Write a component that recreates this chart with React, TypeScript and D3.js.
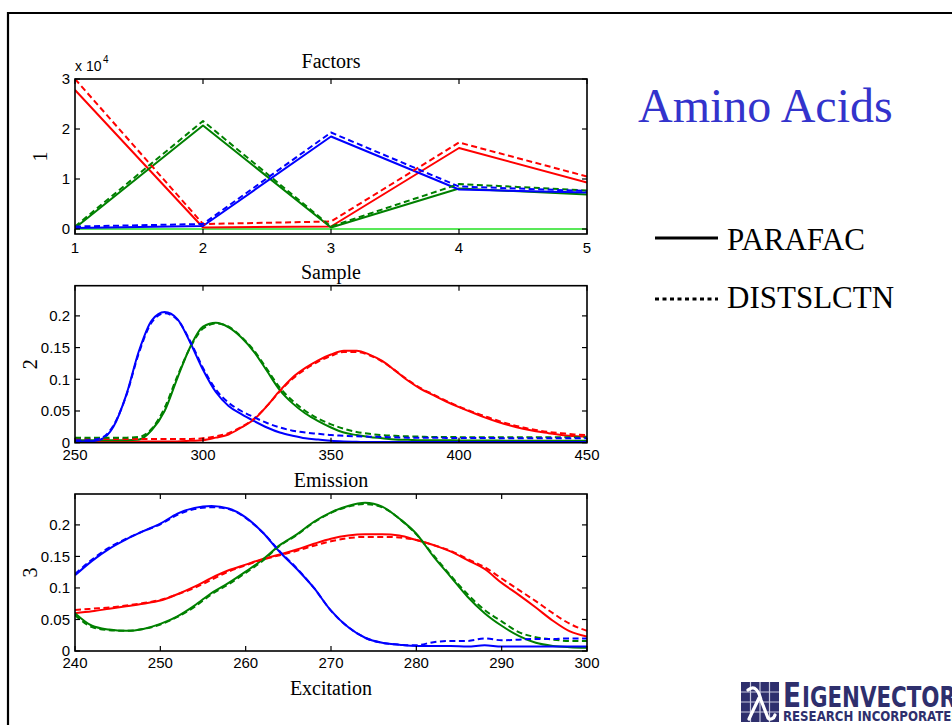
import React from 'react';
import * as d3 from 'd3';

// ---- Mode 1: sample loadings (x 10^4) ----
const sampleIdx = [1, 2, 3, 4, 5];
const sampleRedPar = [2.78, 0.03, 0.05, 1.62, 0.93];
const sampleRedDist = [3.0, 0.1, 0.15, 1.73, 1.05];
const sampleGreenPar = [0.02, 2.07, 0.03, 0.81, 0.69];
const sampleGreenDist = [0.05, 2.16, 0.05, 0.9, 0.77];
const sampleBluePar = [0.02, 0.06, 1.85, 0.79, 0.73];
const sampleBlueDist = [0.05, 0.1, 1.93, 0.85, 0.76];
const sampleZero = [0, 0, 0, 0, 0];

// ---- Mode 2: emission loadings ----
const emWave = [
  250, 255, 260, 265, 270, 275, 280, 285, 290, 295, 300, 305, 310, 315, 320, 325, 330, 335, 340, 345,
  350, 355, 360, 365, 370, 375, 380, 385, 390, 395, 400, 405, 410, 415, 420, 425, 430, 435, 440, 445, 450,
];
const emBluePar = [
  0.002, 0.002, 0.005, 0.025, 0.075, 0.145, 0.193, 0.206, 0.195, 0.158, 0.115, 0.08, 0.058, 0.045, 0.034, 0.024,
  0.016, 0.011, 0.007, 0.005, 0.003, 0.002, 0.0015, 0.001, 0.001, 0.001, 0.001, 0.001, 0.001, 0.001, 0.001,
  0.001, 0.001, 0.001, 0.001, 0.001, 0.001, 0.001, 0.001, 0.001, 0.001,
];
const emBlueDist = [
  0.004, 0.004, 0.007, 0.027, 0.074, 0.142, 0.19, 0.204, 0.194, 0.16, 0.118, 0.084, 0.063, 0.05, 0.04, 0.031,
  0.024, 0.019, 0.016, 0.014, 0.012, 0.011, 0.01, 0.0095, 0.009, 0.0085, 0.008, 0.008, 0.0078, 0.0076, 0.0075,
  0.0074, 0.0073, 0.0072, 0.0071, 0.007, 0.007, 0.007, 0.007, 0.007, 0.007,
];
const emGreenPar = [
  0.004, 0.004, 0.004, 0.004, 0.004, 0.005, 0.02, 0.05, 0.102, 0.151, 0.183, 0.189, 0.182, 0.166, 0.143, 0.113,
  0.083, 0.062, 0.046, 0.034, 0.024, 0.016, 0.012, 0.009, 0.007, 0.005, 0.0045, 0.004, 0.004, 0.0038, 0.0036,
  0.0035, 0.0034, 0.0033, 0.0032, 0.0031, 0.003, 0.003, 0.003, 0.003, 0.003,
];
const emGreenDist = [
  0.008, 0.008, 0.008, 0.008, 0.008, 0.009, 0.022, 0.055, 0.105, 0.15, 0.18, 0.188, 0.183, 0.167, 0.145, 0.116,
  0.087, 0.066, 0.05, 0.038, 0.029, 0.022, 0.017, 0.014, 0.012, 0.011, 0.01, 0.0095, 0.009, 0.009, 0.0088,
  0.0087, 0.0086, 0.0085, 0.0085, 0.0085, 0.0085, 0.0085, 0.0085, 0.0085, 0.0085,
];
const emRedPar = [
  0.002, 0.002, 0.002, 0.002, 0.002, 0.002, 0.002, 0.002, 0.002, 0.003, 0.004, 0.008, 0.013, 0.024, 0.037, 0.058,
  0.082, 0.103, 0.118, 0.13, 0.139, 0.145, 0.145, 0.139, 0.129, 0.114, 0.098, 0.085, 0.075, 0.065, 0.056,
  0.048, 0.04, 0.033, 0.027, 0.022, 0.018, 0.015, 0.012, 0.0105, 0.0095,
];
const emRedDist = [
  0.006, 0.006, 0.006, 0.006, 0.006, 0.006, 0.006, 0.006, 0.006, 0.006, 0.007, 0.01, 0.015, 0.025, 0.038, 0.058,
  0.081, 0.101, 0.116, 0.128, 0.137, 0.143, 0.143, 0.138, 0.128, 0.114, 0.099, 0.086, 0.076, 0.066, 0.057,
  0.049, 0.042, 0.035, 0.029, 0.024, 0.02, 0.017, 0.015, 0.013, 0.012,
];

// ---- Mode 3: excitation loadings ----
const exWave = [
  240, 242, 244, 246, 248, 250, 252, 254, 256, 258, 260, 262, 264, 266, 268, 270, 272, 274, 276, 278, 280, 282,
  284, 286, 288, 290, 292, 294, 296, 298, 300,
];
const exBluePar = [
  0.12, 0.143, 0.162, 0.177, 0.19, 0.202, 0.218, 0.227, 0.23, 0.226, 0.212, 0.188, 0.157, 0.13, 0.1, 0.064,
  0.038, 0.021, 0.013, 0.01, 0.008, 0.008, 0.008, 0.007, 0.009, 0.007, 0.007, 0.007, 0.007, 0.007, 0.007,
];
const exBlueDist = [
  0.122, 0.145, 0.164, 0.178, 0.19, 0.201, 0.216, 0.225, 0.228, 0.225, 0.211, 0.188, 0.158, 0.131, 0.1, 0.064,
  0.038, 0.021, 0.013, 0.01, 0.009, 0.014, 0.016, 0.016, 0.02, 0.017, 0.018, 0.019, 0.019, 0.02, 0.02,
];
const exGreenPar = [
  0.06, 0.04, 0.034, 0.032, 0.035, 0.043, 0.055, 0.072, 0.092, 0.108, 0.126, 0.145, 0.168, 0.185, 0.205, 0.22,
  0.23, 0.235, 0.229, 0.21, 0.186, 0.15, 0.118, 0.086, 0.06, 0.04, 0.024, 0.013, 0.008, 0.006, 0.005,
];
const exGreenDist = [
  0.057, 0.038, 0.033, 0.032, 0.035, 0.042, 0.054, 0.07, 0.09, 0.106, 0.124, 0.143, 0.167, 0.184, 0.204, 0.219,
  0.229, 0.233, 0.228, 0.21, 0.185, 0.152, 0.12, 0.09, 0.065, 0.047, 0.03, 0.022, 0.018, 0.016, 0.016,
];
const exRedPar = [
  0.06, 0.063, 0.067, 0.071, 0.075, 0.08, 0.09, 0.102, 0.116, 0.128, 0.137, 0.146, 0.153, 0.161, 0.17, 0.178,
  0.183, 0.185, 0.185, 0.183, 0.176, 0.168, 0.158, 0.144, 0.13, 0.108, 0.089, 0.069, 0.048, 0.031, 0.023,
];
const exRedDist = [
  0.065, 0.067, 0.069, 0.072, 0.076, 0.081, 0.09, 0.1, 0.113, 0.126, 0.136, 0.145, 0.152, 0.159, 0.167, 0.174,
  0.179, 0.181, 0.181, 0.18, 0.176, 0.168, 0.159, 0.146, 0.133, 0.115, 0.097, 0.079, 0.06, 0.043, 0.032,
];

// ---- axis ticks ----
const sampleTicksX = [1, 2, 3, 4, 5];
const sampleTicksY = [0, 1, 2, 3];
const emTicksX = [250, 300, 350, 400, 450];
const exTicksX = [240, 250, 260, 270, 280, 290, 300];
const valueTicksY = [0, 0.05, 0.1, 0.15, 0.2];

const RED = '#ff0000';
const GREEN = '#008000';
const BLUE = '#0000ff';
const ZERO_GREEN = '#22e022';
const DASH = '6,3.5';

const SANS = '"Liberation Sans", Arial, Helvetica, sans-serif';
const SERIF = '"Liberation Serif", "Times New Roman", Times, serif';

type Series = { x: number[]; y: number[]; color: string; dashed?: boolean; width?: number };

type PanelProps = {
  id: string;
  xDomain: [number, number];
  yDomain: [number, number];
  top: number;
  bottom: number;
  xTicks: number[];
  yTicks: number[];
  xLabelOffset: number;
  series: Series[];
  curve: d3.CurveFactory;
  title: string;
  titleY: number;
  xLabel: string;
  xLabelY: number;
  yLabel: string;
  yLabelX: number;
};

const LEFT = 75;
const RIGHT = 587;

function Panel(p: PanelProps) {
  const x = d3.scaleLinear().domain(p.xDomain).range([LEFT, RIGHT]);
  const y = d3.scaleLinear().domain(p.yDomain).range([p.bottom, p.top]);
  const tickLen = 5;
  const fmt = (v: number) => String(+v.toFixed(2));
  return (
    <g>
      <defs>
        <clipPath id={p.id}>
          <rect x={LEFT} y={p.top} width={RIGHT - LEFT} height={p.bottom - p.top} />
        </clipPath>
      </defs>
      <g clipPath={`url(#${p.id})`}>
        {p.series.map((s, i) => {
          const line = d3
            .line<number>()
            .x((_, k) => x(s.x[k]))
            .y((v) => y(v))
            .curve(p.curve);
          return (
            <path
              key={i}
              d={line(s.y) || ''}
              fill="none"
              stroke={s.color}
              strokeWidth={s.width ?? 2}
              strokeDasharray={s.dashed ? DASH : undefined}
              strokeLinejoin="round"
            />
          );
        })}
      </g>
      {/* tick marks on all four sides, pointing inward */}
      {p.xTicks.map((t) => (
        <g key={'xt' + t}>
          <line x1={x(t)} x2={x(t)} y1={p.bottom} y2={p.bottom - tickLen} stroke="#000" strokeWidth={1.2} />
          <line x1={x(t)} x2={x(t)} y1={p.top} y2={p.top + tickLen} stroke="#000" strokeWidth={1.2} />
          <text
            x={x(t)}
            y={p.bottom + p.xLabelOffset}
            textAnchor="middle"
            fontFamily={SANS}
            fontSize={15}
            fill="#000"
          >
            {fmt(t)}
          </text>
        </g>
      ))}
      {p.yTicks.map((t) => (
        <g key={'yt' + t}>
          <line x1={LEFT} x2={LEFT + tickLen} y1={y(t)} y2={y(t)} stroke="#000" strokeWidth={1.2} />
          <line x1={RIGHT} x2={RIGHT - tickLen} y1={y(t)} y2={y(t)} stroke="#000" strokeWidth={1.2} />
          <text
            x={70}
            y={y(t)}
            dy="0.36em"
            textAnchor="end"
            fontFamily={SANS}
            fontSize={15}
            fill="#000"
          >
            {fmt(t)}
          </text>
        </g>
      ))}
      <rect
        x={LEFT}
        y={p.top}
        width={RIGHT - LEFT}
        height={p.bottom - p.top}
        fill="none"
        stroke="#000"
        strokeWidth={1.6}
      />
      <text x={(LEFT + RIGHT) / 2} y={p.titleY} textAnchor="middle" fontFamily={SERIF} fontSize={20}>
        {p.title}
      </text>
      <text x={(LEFT + RIGHT) / 2} y={p.xLabelY} textAnchor="middle" fontFamily={SERIF} fontSize={20}>
        {p.xLabel}
      </text>
      <text
        transform={`translate(${p.yLabelX},${(p.top + p.bottom) / 2}) rotate(-90)`}
        textAnchor="middle"
        dy="0.35em"
        fontFamily={SERIF}
        fontSize={20}
      >
        {p.yLabel}
      </text>
    </g>
  );
}

function Logo() {
  const bx = 741;
  const by = 682;
  const bw = 38;
  const bh = 40;
  const navy = '#2e2f6d';
  const cols = d3.range(1, 4).map((i) => bx + (bw * i) / 4);
  const rows = d3.range(1, 4).map((i) => by + (bh * i) / 4);
  return (
    <g>
      <rect x={bx} y={by} width={bw} height={bh} fill={navy} />
      {cols.map((c) => (
        <line key={'c' + c} x1={c} x2={c} y1={by} y2={by + bh} stroke="#c8c9e0" strokeWidth={1.2} />
      ))}
      {rows.map((r) => (
        <line key={'r' + r} x1={bx} x2={bx + bw} y1={r} y2={r} stroke="#c8c9e0" strokeWidth={1.2} />
      ))}
      <path
        d={`M${bx + 7},${by + 8} C${bx + 14},${by + 2} ${bx + 18},${by + 10} ${bx + 20},${by + 18}
            L${bx + 27},${by + 36} C${bx + 29},${by + 38} ${bx + 33},${by + 37} ${bx + 34},${by + 33}
            M${bx + 18},${by + 16} L${bx + 8},${by + 37}`}
        fill="none"
        stroke="#fff"
        strokeWidth={3.2}
        strokeLinecap="round"
      />
      <text
        x={783}
        y={707}
        fontFamily='"DejaVu Sans Condensed", "DejaVu Sans", sans-serif'
        fontWeight="bold"
        fontSize={34}
        fill={navy}
        textLength={18}
        lengthAdjust="spacingAndGlyphs"
      >
        E
      </text>
      <text
        x={802}
        y={707}
        fontFamily='"DejaVu Sans Condensed", "DejaVu Sans", sans-serif'
        fontWeight="bold"
        fontSize={28}
        fill={navy}
        textLength={154}
        lengthAdjust="spacingAndGlyphs"
      >
        IGENVECTOR
      </text>
      <text
        x={783}
        y={721}
        fontFamily='"DejaVu Sans Condensed", "DejaVu Sans", sans-serif'
        fontWeight="bold"
        fontSize={13.5}
        fill={navy}
        textLength={178}
        lengthAdjust="spacingAndGlyphs"
      >
        RESEARCH INCORPORATED
      </text>
    </g>
  );
}

export default function App() {
  const W = 952;
  const H = 725;
  return (
    <svg
      width={W}
      height={H}
      viewBox={`0 0 ${W} ${H}`}
      style={{ position: 'absolute', left: 0, top: 0, display: 'block', background: '#fff' }}
    >
      <rect x={0} y={0} width={W} height={H} fill="#fff" />
      {/* slide frame */}
      <path d={`M8,${H + 5} L8,13 L${W + 5},13`} fill="none" stroke="#000" strokeWidth={2.2} />

      <Panel
        id="clip-sample"
        xDomain={[1, 5]}
        yDomain={[-0.1, 3]}
        top={79}
        bottom={234}
        xTicks={sampleTicksX}
        yTicks={sampleTicksY}
        xLabelOffset={19}
        curve={d3.curveLinear}
        series={[
          { x: sampleIdx, y: sampleZero, color: ZERO_GREEN, width: 1.5 },
          { x: sampleIdx, y: sampleRedPar, color: RED },
          { x: sampleIdx, y: sampleGreenPar, color: GREEN },
          { x: sampleIdx, y: sampleBluePar, color: BLUE },
          { x: sampleIdx, y: sampleRedDist, color: RED, dashed: true },
          { x: sampleIdx, y: sampleGreenDist, color: GREEN, dashed: true },
          { x: sampleIdx, y: sampleBlueDist, color: BLUE, dashed: true },
        ]}
        title="Factors"
        titleY={68}
        xLabel="Sample"
        xLabelY={279}
        yLabel="1"
        yLabelX={40}
      />
      <text x={75} y={71} fontFamily={SANS} fontSize={14}>
        x 10
      </text>
      <text x={103} y={63} fontFamily={SANS} fontSize={10}>
        4
      </text>

      <Panel
        id="clip-emission"
        xDomain={[250, 450]}
        yDomain={[0, 0.2476]}
        top={285.7}
        bottom={442.7}
        xTicks={emTicksX}
        yTicks={valueTicksY}
        xLabelOffset={17}
        curve={d3.curveMonotoneX}
        series={[
          { x: emWave, y: emRedPar, color: RED },
          { x: emWave, y: emGreenPar, color: GREEN },
          { x: emWave, y: emBluePar, color: BLUE },
          { x: emWave, y: emRedDist, color: RED, dashed: true },
          { x: emWave, y: emGreenDist, color: GREEN, dashed: true },
          { x: emWave, y: emBlueDist, color: BLUE, dashed: true },
        ]}
        title=""
        titleY={0}
        xLabel="Emission"
        xLabelY={487}
        yLabel="2"
        yLabelX={30}
      />

      <Panel
        id="clip-excitation"
        xDomain={[240, 300]}
        yDomain={[0, 0.249]}
        top={494}
        bottom={651}
        xTicks={exTicksX}
        yTicks={valueTicksY}
        xLabelOffset={17}
        curve={d3.curveMonotoneX}
        series={[
          { x: exWave, y: exRedPar, color: RED },
          { x: exWave, y: exGreenPar, color: GREEN },
          { x: exWave, y: exBluePar, color: BLUE },
          { x: exWave, y: exRedDist, color: RED, dashed: true },
          { x: exWave, y: exGreenDist, color: GREEN, dashed: true },
          { x: exWave, y: exBlueDist, color: BLUE, dashed: true },
        ]}
        title=""
        titleY={0}
        xLabel="Excitation"
        xLabelY={695}
        yLabel="3"
        yLabelX={30}
      />

      {/* heading and legend */}
      <text x={638} y={122} fontFamily={SERIF} fontSize={48} fill="#3333cc">
        Amino Acids
      </text>
      <line x1={655} x2={718} y1={238} y2={238} stroke="#000" strokeWidth={3} />
      <text x={727} y={250} fontFamily={SERIF} fontSize={31} fill="#000">
        PARAFAC
      </text>
      <line x1={655} x2={718} y1={299} y2={299} stroke="#000" strokeWidth={3} strokeDasharray="4,3.5" />
      <text x={727} y={308} fontFamily={SERIF} fontSize={31} fill="#000">
        DISTSLCTN
      </text>

      <Logo />
    </svg>
  );
}
